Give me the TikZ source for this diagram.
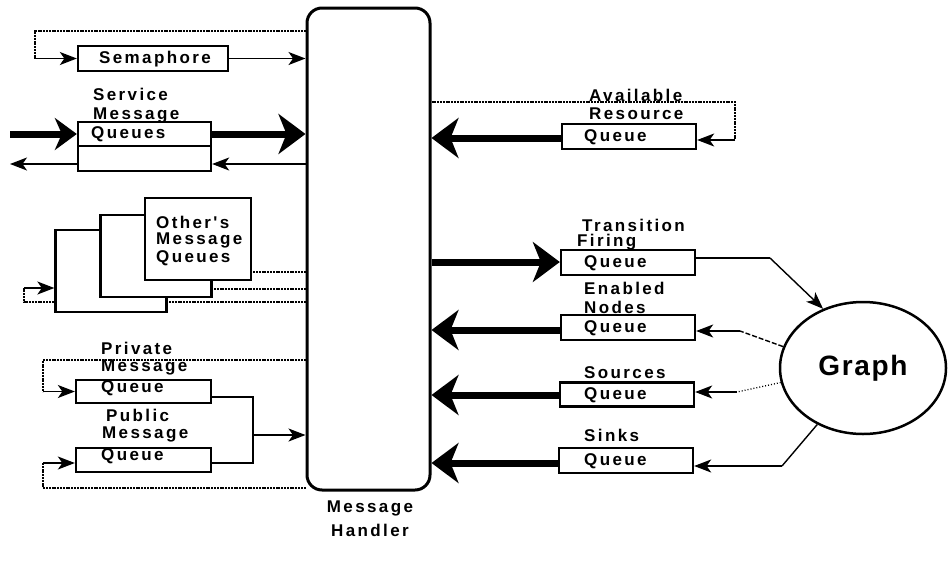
\documentclass[tikz,border=0pt]{standalone}
\usepackage{fontspec}
\newfontfamily\lbl{Liberation Sans}[LetterSpace=14]
\newfontfamily\gfont{Liberation Sans}[LetterSpace=6]
\usetikzlibrary{arrows.meta,shapes.geometric,backgrounds}
\tikzset{
  box/.style={draw,line width=2.3pt,fill=white,inner sep=0pt},
  txt/.style={anchor=west,inner sep=0pt,font=\lbl\bfseries\fontsize{17}{20}\selectfont},
  ctxt/.style={inner sep=0pt,font=\lbl\bfseries\fontsize{17}{20}\selectfont},
  thick arrow/.style={line width=7pt,-{Stealth[length=27pt,width=40pt,inset=8pt]}},
  small thick/.style={line width=7pt,-{Stealth[length=22pt,width=32pt,inset=7pt]}},
  thin arrow/.style={line width=1.4pt,-{Stealth[length=17pt,width=13pt,inset=4.5pt]}},
  thin line/.style={line width=1.4pt},
  dl/.style={line width=1.4pt,dash pattern=on 2pt off 0.8pt},
  gline/.style={line width=1.4pt,dash pattern=on 5pt off 2pt},
  dotl/.style={line width=1.3pt,dash pattern=on 1pt off 2pt},
}
\begin{document}
\begin{tikzpicture}[x=1pt,y=-1pt]
\useasboundingbox (0,0) rectangle (950,565);
% message handler
\node[draw,line width=3pt,fill=white,rounded corners=15pt,inner sep=0pt,
      minimum width=123pt,minimum height=482pt] (mh) at (368.5,249) {};
\node[ctxt] (mhl1) at (370,508) {Message};
\node[ctxt] (mhl2) at (370,530) {Handler};

% left boxes
\node[box,minimum width=150pt,minimum height=25pt] (sem) at (153,58.5) {};
\node[ctxt] (semt) at (155,59) {Semaphore};

\node[box,minimum width=133pt,minimum height=24pt] (svc) at (144.5,134) {};
\node[box,minimum width=133pt,minimum height=25pt] (svc2) at (144.5,158.5) {};
\node[txt] (svct1) at (93,94) {Service};
\node[txt] (svct2) at (93,115) {Message};
\node[txt] (svct3) at (91,134) {Queues};

\node[box,minimum width=111pt,minimum height=82pt] (oq1) at (111,271) {};
\node[box,minimum width=111pt,minimum height=82pt] (oq2) at (156,256) {};
\node[box,minimum width=106pt,minimum height=82pt] (oq3) at (198,239) {};
\node[txt] (oqt1) at (156,222) {Other's};
\node[txt] (oqt2) at (156,240) {Message};
\node[txt] (oqt3) at (156,258) {Queues};

\node[box,minimum width=135pt,minimum height=23pt] (priv) at (143.5,391.5) {};
\node[txt] (privt1) at (101,348) {Private};
\node[txt] (privt2) at (101,367) {Message};
\node[txt] (privt3) at (101,388) {Queue};

\node[box,minimum width=135pt,minimum height=24pt] (pub) at (143.5,460) {};
\node[txt] (pubt1) at (106,415) {Public};
\node[txt] (pubt2) at (102,434) {Message};
\node[txt] (pubt3) at (101,456) {Queue};

% right boxes
\node[box,minimum width=134pt,minimum height=25pt] (avail) at (629,136.5) {};
\node[txt] (avt1) at (589,95) {Available};
\node[txt] (avt2) at (589,114) {Resource};
\node[txt] (avt3) at (584,137) {Queue};

\node[box,minimum width=134pt,minimum height=25pt] (trans) at (628,262.5) {};
\node[txt] (trt1) at (582,225) {Transition};
\node[txt] (trt2) at (577,242) {Firing};
\node[txt] (trt3) at (584,263) {Queue};

\node[box,minimum width=134pt,minimum height=25pt] (enab) at (628,327.5) {};
\node[txt] (ent1) at (584,288) {Enabled};
\node[txt] (ent2) at (584,307) {Nodes};
\node[txt] (ent3) at (584,328) {Queue};

\node[box,minimum width=134pt,minimum height=24pt] (src) at (627,394.5) {};
\node[txt] (srt1) at (584,373) {Sources};
\node[txt] (srt2) at (584,395) {Queue};

\node[box,minimum width=134pt,minimum height=25pt] (sink) at (626,460.5) {};
\node[txt] (sit1) at (584,435) {Sinks};
\node[txt] (sit2) at (584,461) {Queue};

% graph
\node[draw,ellipse,line width=2.5pt,fill=white,minimum width=166pt,minimum height=132pt,
      font=\gfont\bfseries\fontsize{28}{32}\selectfont] (graph) at (863,368) {Graph};

% coordinates
\coordinate (inL) at (10,134);
\coordinate (outL) at (10,164);
\coordinate (semc) at (35,58.5);
\coordinate (o3c) at (112,255);
\coordinate (o2c) at (67,272);
\coordinate (o1c) at (24,288);
\coordinate (prc) at (43,391.5);
\coordinate (puc) at (43,463);
\coordinate (bar) at (253,463);
\coordinate (barA) at (253,435);
\coordinate (avc) at (735,140);
\coordinate (trc) at (770,258);
\coordinate (enc) at (740,331);
\coordinate (src2) at (737,392);
\coordinate (sic) at (782,466);

\begin{scope}[on background layer]
% semaphore
\draw[dl] (mh.west |- 0,31) -| (semc);
\draw[thin arrow] (semc) -- (sem.west);
\draw[thin arrow] (sem.east) -- (sem.east -| mh.west);
% service
\draw[small thick] (inL) -- (svc.west);
\draw[thick arrow] (svc.east) -- (svc.east -| mh.west);
\draw[thin arrow] (mh.west |- 0,164) -- (svc2.east |- 0,164);
\draw[thin arrow] (svc2.west |- 0,164) -- (outL);
% others
\draw[dl] (mh.west |- 0,272) -| (o3c);
\draw[thin arrow] (o3c) -- (oq3.west |- o3c);
\draw[dl] (mh.west |- 0,289) -| (o2c);
\draw[thin arrow] (o2c) -- (oq2.west |- o2c);
\draw[dl] (mh.west |- 0,302) -| (o1c);
\draw[thin arrow] (o1c) -- (oq1.west |- o1c);
% private / public
\draw[dl] (mh.west |- 0,360) -| (prc);
\draw[thin arrow] (prc) -- (priv.west);
\draw[thin line] (priv.east |- 0,397) -| (bar) -- (pub.east |- bar);
\draw[thin arrow] (barA) -- (mh.west |- barA);
\draw[dl] (mh.west |- 0,488) -| (puc);
\draw[thin arrow] (puc) -- (pub.west |- puc);
% right side
\draw[dl] (mh.east |- 0,102) -| (avc);
\draw[thin arrow] (avc) -- (avail.east |- avc);
\draw[thick arrow] (avail.west |- 0,138) -- (mh.east |- 0,138);
\draw[thick arrow] (mh.east |- 0,262) -- (trans.west |- 0,262);
\draw[thick arrow] (enab.west |- 0,330) -- (mh.east |- 0,330);
\draw[thick arrow] (src.west |- 0,395) -- (mh.east |- 0,395);
\draw[thick arrow] (sink.west |- 0,463) -- (mh.east |- 0,463);
% graph connections
\draw[thin line] (trans.east |- trc) -- (trc);
\draw[thin arrow] (trc) -- (graph.124);
\draw[gline] (graph.165) -- (enc);
\draw[thin arrow] (enc) -- (enab.east |- enc);
\draw[dotl] (graph.190) -- (src2);
\draw[thin arrow] (src2) -- (src.east |- src2);
\draw[thin line] (graph.231) -- (sic);
\draw[thin arrow] (sic) -- (sink.east |- sic);
\end{scope}
\end{tikzpicture}
\end{document}
